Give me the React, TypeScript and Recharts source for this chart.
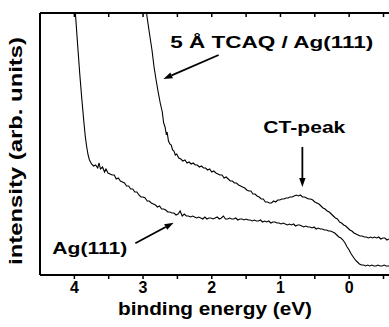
import React from 'react';
import { LineChart, Line, XAxis, YAxis, ReferenceLine, ReferenceDot } from 'recharts';

// binding energy (eV), intensity (arb. units)
const agEnergy = [4.02, 3.985, 3.95, 3.92, 3.89, 3.86, 3.84, 3.82, 3.8, 3.78, 3.75, 3.72, 3.69, 3.66, 3.64, 3.62, 3.59, 3.56, 3.54, 3.51, 3.48, 3.45, 3.42, 3.39, 3.36, 3.33, 3.3, 3.27, 3.24, 3.21, 3.18, 3.15, 3.12, 3.09, 3.06, 3.03, 3.0, 2.97, 2.94, 2.91, 2.88, 2.85, 2.82, 2.79, 2.76, 2.73, 2.7, 2.67, 2.64, 2.61, 2.58, 2.55, 2.52, 2.49, 2.46, 2.43, 2.4, 2.37, 2.34, 2.31, 2.28, 2.25, 2.22, 2.19, 2.16, 2.13, 2.1, 2.07, 2.04, 2.01, 1.98, 1.95, 1.92, 1.89, 1.86, 1.83, 1.8, 1.77, 1.74, 1.71, 1.68, 1.65, 1.62, 1.59, 1.56, 1.53, 1.5, 1.47, 1.44, 1.41, 1.38, 1.35, 1.32, 1.29, 1.26, 1.23, 1.2, 1.17, 1.14, 1.11, 1.08, 1.05, 1.02, 0.99, 0.96, 0.93, 0.9, 0.87, 0.84, 0.81, 0.78, 0.75, 0.72, 0.69, 0.66, 0.63, 0.6, 0.57, 0.54, 0.51, 0.48, 0.45, 0.42, 0.39, 0.36, 0.33, 0.3, 0.27, 0.24, 0.21, 0.18, 0.15, 0.12, 0.09, 0.06, 0.03, 0.0, -0.03, -0.06, -0.09, -0.12, -0.15, -0.18, -0.21, -0.24, -0.27, -0.3, -0.33, -0.36, -0.39, -0.42, -0.45, -0.48, -0.51, -0.54, -0.58];
const agIntensity = [300, 262, 228, 200, 175, 152, 138, 128, 120, 115, 111, 109, 110, 107, 112, 106, 108, 103, 106, 102, 101, 100, 100, 96, 97, 94, 93, 92, 89, 89, 86, 86, 83, 83, 80, 78, 78, 77, 74, 74, 72, 71, 70, 68, 69, 66, 66, 65, 63, 63, 62, 62, 60, 61, 64, 59, 61, 59, 59, 58, 59, 58, 57, 58, 57, 56, 58, 56, 57, 57, 56, 57, 58, 56, 57, 59, 56, 56, 57, 56, 56, 57, 55, 56, 56, 55, 56, 55, 55, 54, 55, 54, 54, 55, 53, 54, 53, 54, 52, 53, 53, 52, 52, 51, 52, 51, 50, 51, 50, 51, 49, 50, 50, 49, 48, 49, 48, 48, 47, 48, 46, 47, 46, 46, 45, 45, 44, 44, 43, 42, 40, 38, 37, 35, 32, 28, 25, 21, 18, 15, 13, 11, 10, 10, 9, 10, 9, 10, 9, 9, 10, 9, 9, 10, 9, 9];

const tcaqEnergy = [2.97, 2.95, 2.91, 2.87, 2.84, 2.81, 2.78, 2.75, 2.72, 2.7, 2.68, 2.66, 2.65, 2.63, 2.61, 2.59, 2.57, 2.55, 2.53, 2.51, 2.48, 2.45, 2.42, 2.39, 2.36, 2.33, 2.3, 2.27, 2.24, 2.21, 2.18, 2.15, 2.12, 2.09, 2.06, 2.03, 2.0, 1.97, 1.94, 1.91, 1.88, 1.85, 1.82, 1.79, 1.76, 1.73, 1.7, 1.67, 1.64, 1.61, 1.58, 1.55, 1.52, 1.49, 1.46, 1.43, 1.4, 1.37, 1.34, 1.31, 1.28, 1.25, 1.22, 1.19, 1.16, 1.13, 1.1, 1.07, 1.04, 1.01, 0.98, 0.95, 0.92, 0.89, 0.86, 0.83, 0.8, 0.77, 0.74, 0.71, 0.68, 0.65, 0.62, 0.59, 0.56, 0.53, 0.5, 0.47, 0.44, 0.41, 0.38, 0.35, 0.32, 0.29, 0.26, 0.23, 0.2, 0.17, 0.14, 0.11, 0.08, 0.05, 0.02, -0.01, -0.04, -0.07, -0.1, -0.13, -0.16, -0.19, -0.22, -0.25, -0.28, -0.31, -0.34, -0.37, -0.4, -0.43, -0.46, -0.49, -0.52, -0.55, -0.58];
const tcaqIntensity = [290, 262, 243, 225, 208, 195, 183, 172, 163, 152, 148, 140, 143, 134, 131, 130, 125, 124, 120, 121, 117, 116, 114, 115, 112, 113, 111, 112, 110, 110, 108, 109, 107, 107, 105, 106, 103, 104, 102, 101, 100, 100, 97, 98, 96, 94, 94, 92, 92, 90, 89, 88, 87, 85, 84, 84, 81, 81, 79, 78, 76, 76, 73, 73, 72, 72, 74, 73, 75, 75, 76, 76, 77, 77, 78, 78, 79, 80, 79, 80, 78, 78, 77, 76, 76, 75, 73, 72, 71, 69, 67, 66, 64, 63, 61, 59, 57, 56, 53, 52, 50, 49, 47, 45, 44, 42, 41, 40, 39, 39, 38, 38, 37, 38, 37, 38, 37, 38, 36, 37, 37, 35, 36];

const xTicks = [4, 3.5, 3, 2.5, 2, 1.5, 1, 0.5, 0, -0.5];
const xDomain = [-0.58, 4.5];
const yDomain = [0, 262];

const agData = agEnergy.map((e, i) => ({ e, h: agIntensity[i] }));
const tcaqData = tcaqEnergy.map((e, i) => ({ e, h: tcaqIntensity[i] }));

const FONT = '"Liberation Sans", Arial, sans-serif';

const BottomTick = (props: any) => {
  const { x, y, payload } = props;
  const v = payload.value;
  return (
    <g>
      <line x1={x} y1={y} x2={x} y2={y + 4} stroke="#000" strokeWidth={1.5} />
      {Number.isInteger(v) && (
        <text x={x} y={y + 18} textAnchor="middle" fontSize={16} fontWeight="bold" fontFamily={FONT} fill="#000">
          {v}
        </text>
      )}
    </g>
  );
};

const TopTick = (props: any) => {
  const { x, y } = props;
  return <line x1={x} y1={y} x2={x} y2={y + 4} stroke="#000" strokeWidth={1.5} />;
};

const Arrow = (p: any) => {
  const { x1, y1, x2, y2 } = p;
  const dx = x2 - x1;
  const dy = y2 - y1;
  const len = Math.hypot(dx, dy) || 1;
  const ux = dx / len;
  const uy = dy / len;
  const hl = 9;
  const hw = 3.2;
  const bx = x2 - ux * hl;
  const by = y2 - uy * hl;
  return (
    <g>
      <line x1={x1} y1={y1} x2={bx} y2={by} stroke="#000" strokeWidth={1.8} />
      <polygon
        points={`${x2},${y2} ${bx - uy * hw},${by + ux * hw} ${bx + uy * hw},${by - ux * hw}`}
        fill="#000"
      />
    </g>
  );
};

const makeLabel = (text: string, size: number, width: number) => (p: any) => (
  <text
    x={p.cx}
    y={p.cy}
    fontSize={size}
    fontWeight="bold"
    fontFamily={FONT}
    fill="#000"
    textLength={width}
    lengthAdjust="spacingAndGlyphs"
  >
    {text}
  </text>
);

export default function App() {
  return (
    <div style={{ position: 'absolute', left: 0, top: 0, background: '#fff' }}>
      <LineChart
        width={389}
        height={327}
        margin={{ top: 12, right: 0, bottom: 0, left: 0 }}
        style={{ fontFamily: FONT }}
      >
        <XAxis
          dataKey="e"
          type="number"
          domain={xDomain}
          reversed
          allowDataOverflow
          ticks={xTicks}
          interval={0}
          tickLine={false}
          tickSize={0}
          tickMargin={0}
          tick={<BottomTick />}
          axisLine={{ stroke: '#000', strokeWidth: 2 }}
          height={52}
          label={{
            content: () => (
              <text
                x={118}
                y={315}
                fontSize={18}
                fontWeight="bold"
                fontFamily={FONT}
                fill="#000"
                textLength={194}
                lengthAdjust="spacingAndGlyphs"
              >
                binding energy (eV)
              </text>
            ),
          }}
        />
        <XAxis
          xAxisId="top"
          orientation="top"
          dataKey="e"
          type="number"
          domain={xDomain}
          reversed
          allowDataOverflow
          ticks={xTicks}
          interval={0}
          tickLine={false}
          tickSize={0}
          tickMargin={0}
          tick={<TopTick />}
          axisLine={{ stroke: '#000', strokeWidth: 2 }}
          height={1}
        />
        <YAxis
          type="number"
          domain={yDomain}
          allowDataOverflow
          tick={false}
          tickLine={false}
          axisLine={{ stroke: '#000', strokeWidth: 2 }}
          width={40}
          label={{
            content: () => (
              <text
                x={22}
                y={151}
                transform="rotate(-90 22 151)"
                textAnchor="middle"
                fontSize={18}
                fontWeight="bold"
                fontFamily={FONT}
                fill="#000"
                textLength={228}
                lengthAdjust="spacingAndGlyphs"
              >
                intensity (arb. units)
              </text>
            ),
          }}
        />
        <Line
          data={agData}
          dataKey="h"
          type="linear"
          stroke="#000"
          strokeWidth={1.1}
          dot={false}
          isAnimationActive={false}
        />
        <Line
          data={tcaqData}
          dataKey="h"
          type="linear"
          stroke="#000"
          strokeWidth={1.1}
          dot={false}
          isAnimationActive={false}
        />
        <ReferenceLine segment={[{ x: 1.9, y: 220 }, { x: 2.704, y: 196 }]} shape={Arrow} />
        <ReferenceLine segment={[{ x: 0.681, y: 128 }, { x: 0.681, y: 88 }]} shape={Arrow} />
        <ReferenceLine segment={[{ x: 3.112, y: 31.7 }, { x: 2.555, y: 52.3 }]} shape={Arrow} />
        <ReferenceDot x={2.603} y={227.3} r={0} shape={makeLabel('5 Å TCAQ / Ag(111)', 16, 203)} />
        <ReferenceDot x={1.249} y={142} r={0} shape={makeLabel('CT-peak', 17, 82)} />
        <ReferenceDot x={4.32} y={21} r={0} shape={makeLabel('Ag(111)', 17, 75)} />
      </LineChart>
    </div>
  );
}
